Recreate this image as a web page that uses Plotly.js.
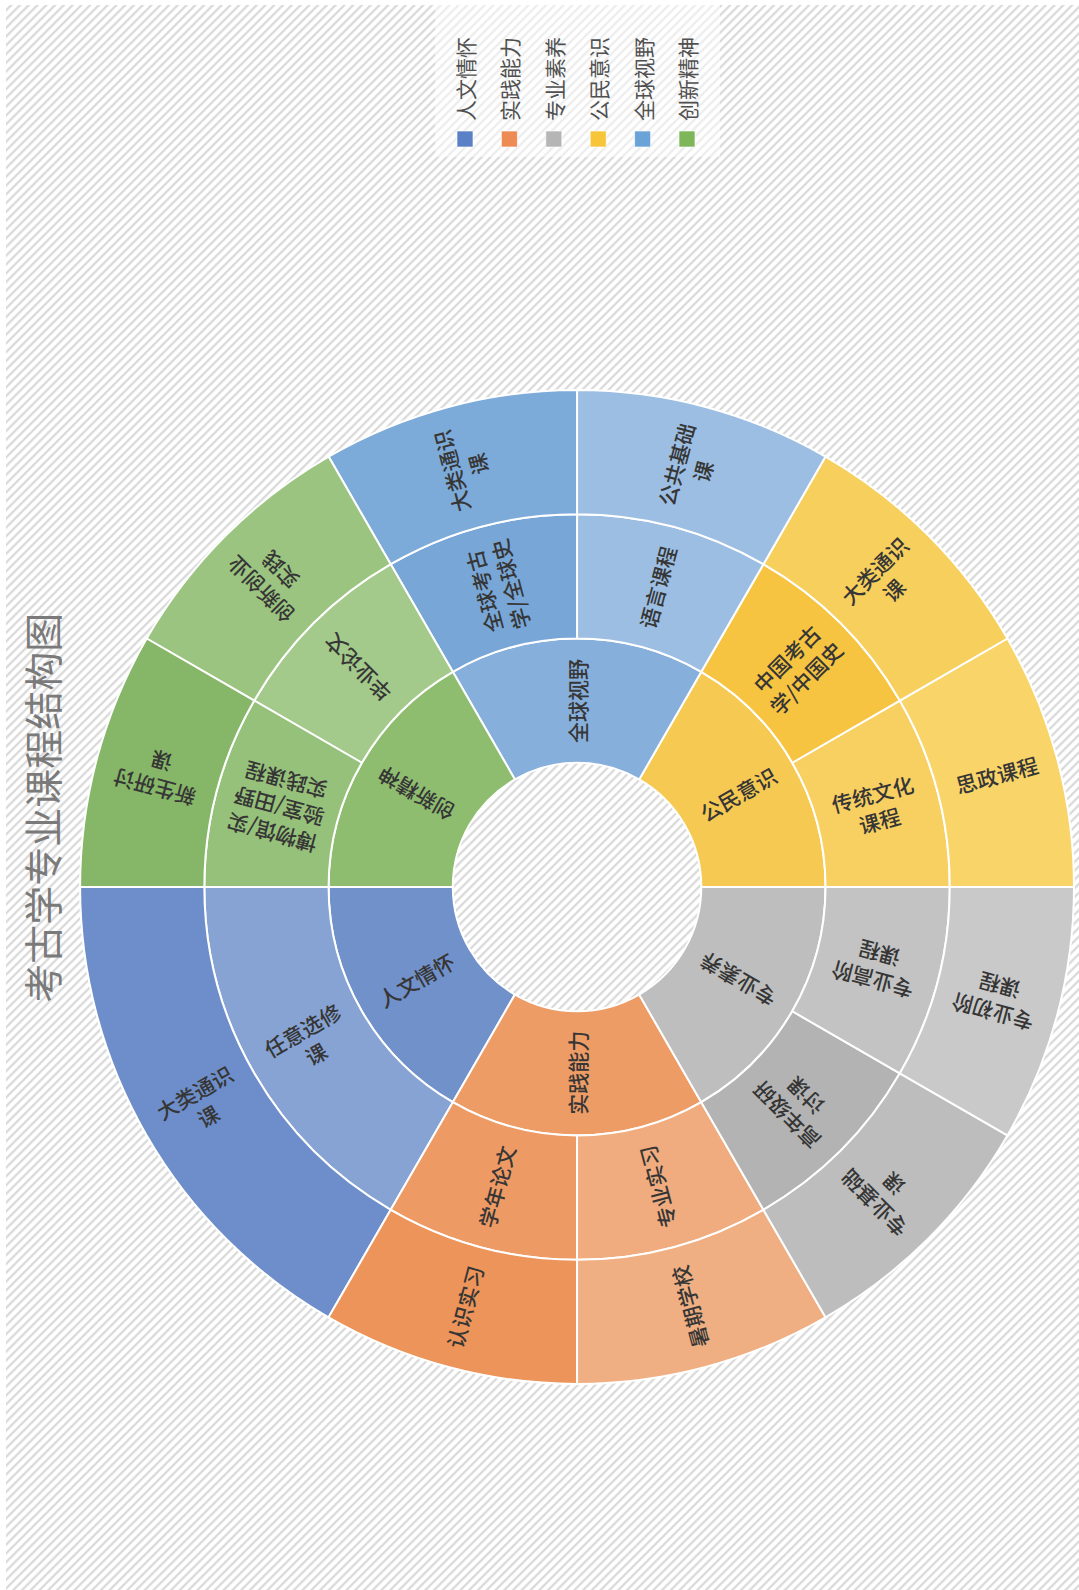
<!DOCTYPE html>
<html>
<head>
<meta charset="utf-8">
<script src="https://cdn.plot.ly/plotly-3.0.1.min.js"></script>
<style>
  html, body { margin: 0; padding: 0; background: #ffffff; }
  body { width: 1079px; height: 1590px; position: relative; overflow: hidden; }
  #hatch {
    position: absolute; left: 6px; top: 5px; right: 0; bottom: 0;
    background: repeating-linear-gradient(135deg,
      #ffffff 0px, #ffffff 2px, #dadada 3.2px, #dadada 4.2px, #ffffff 5.6px, #ffffff 6.2px);
  }
  #chart {
    position: absolute; left: 0; top: 0;
    width: 1590px; height: 1079px;
    transform-origin: 0 0;
    transform: translate(0px, 1590px) rotate(-90deg);
  }
</style>
</head>
<body>
<div id="hatch"></div>
<div id="chart"></div>
<script>
// ---- data ----
const chartTitle = '考古学专业课程结构图';
const categories = ['人文情怀', '实践能力', '专业素养', '公民意识', '全球视野', '创新精神'];
const categoryColors = ['#7191CA', '#EE9C66', '#BEBEBE', '#F6CA52', '#86AFDB', '#8FBD70'];
const legendColors = ['#5A80C6', '#EE8B55', '#B5B5B5', '#F7C53A', '#6AA3D8', '#7FB65A'];

const level2Labels = ['任意选修<br>课', '学年论文', '专业实习', '高年级研<br>讨课', '专业高阶<br>课程',
  '传统文化<br>课程', '中国考古<br>学/中国史', '语言课程', '全球考古<br>学/全球史', '毕业论文',
  '博物馆/实<br>验室/田野<br>实践课程'];
const level2Parent = [0, 1, 1, 2, 2, 3, 3, 4, 4, 5, 5];
const level2Colors = ['#86A3D4', '#EE9A64', '#F0AC7E', '#B3B3B3', '#C3C3C3',
  '#F8D062', '#F6C440', '#9CBEE2', '#78A7D7', '#A3CA8B', '#96C17A'];

const level3Labels = ['大类通识<br>课', '认识实习', '暑期学校', '专业基础<br>课', '专业初阶<br>课程',
  '思政课程', '大类通识<br>课', '公共基础<br>课', '大类通识<br>课', '创新创业<br>实践', '新生研讨<br>课'];
const level3Parent = [0, 1, 2, 3, 4, 5, 6, 7, 8, 9, 10];
const level3Values = [2, 1, 1, 1, 1, 1, 1, 1, 1, 1, 1];
const level3Colors = ['#6D8ECA', '#EC9459', '#F0AF82', '#BDBDBD', '#C9C9C9',
  '#F8D469', '#F7CF5C', '#9CBEE2', '#7CAAD9', '#9AC47F', '#86B667'];

// ---- build hierarchy ----
const ids = ['root'], labels = [''], parents = [''], values = [0];
const colors = ['rgba(0,0,0,0)'], lineW = [0], txtCol = ['rgba(0,0,0,0)'];
categories.forEach((c, i) => {
  ids.push('c' + i); labels.push(c); parents.push('root'); values.push(0);
  colors.push(categoryColors[i]); lineW.push(2); txtCol.push('#363636');
});
level2Labels.forEach((l, i) => {
  ids.push('m' + i); labels.push(l); parents.push('c' + level2Parent[i]); values.push(0);
  colors.push(level2Colors[i]); lineW.push(2); txtCol.push('#363636');
});
level3Labels.forEach((l, i) => {
  ids.push('o' + i); labels.push(l); parents.push('m' + level3Parent[i]); values.push(level3Values[i]);
  colors.push(level3Colors[i]); lineW.push(2); txtCol.push('#363636');
});

const W = 1590, H = 1079;
const font = '"Noto Sans CJK SC", "Noto Sans", sans-serif';

const trace = {
  type: 'sunburst',
  ids: ids, labels: labels, parents: parents, values: values,
  branchvalues: 'remainder',
  sort: false,
  rotation: 90,
  textinfo: 'label',
  insidetextorientation: 'radial',
  textfont: { family: font, size: 21, color: txtCol, weight: 500 },
  marker: { colors: colors, line: { color: '#ffffff', width: lineW } },
  leaf: { opacity: 1 },
  hoverinfo: 'none',
  domain: { x: [0.1296, 0.7547], y: [0.0046, 0.9258] }
};

// legend drawn with shapes + annotations
const shapes = [{
  type: 'rect', xref: 'paper', yref: 'paper',
  x0: 1433 / W, x1: 1585 / W, y0: 1 - 720 / H, y1: 1 - 435 / H,
  fillcolor: 'rgba(255,255,255,0.5)', line: { width: 0 }, layer: 'below'
}];
const annotations = [];
categories.forEach((c, i) => {
  const v = 465 + i * 44.4;
  shapes.push({
    type: 'rect', xref: 'paper', yref: 'paper',
    x0: 1443 / W, x1: 1459 / W, y0: 1 - (v + 8) / H, y1: 1 - (v - 8) / H,
    fillcolor: legendColors[i], line: { width: 0.8, color: 'rgba(255,255,255,0.8)' }
  });
  annotations.push({
    xref: 'paper', yref: 'paper', x: 1467 / W, y: 1 - v / H,
    xanchor: 'left', yanchor: 'middle', showarrow: false,
    text: c, font: { family: font, size: 21, color: '#505050' }
  });
});

const layout = {
  width: W, height: H,
  margin: { l: 0, r: 0, t: 0, b: 0 },
  paper_bgcolor: 'rgba(0,0,0,0)',
  plot_bgcolor: 'rgba(0,0,0,0)',
  title: {
    text: chartTitle, x: 0.492, xanchor: 'center', y: 1 - 44 / H, yanchor: 'middle',
    font: { family: font, size: 39, color: '#7a7a7a' }
  },
  shapes: shapes,
  annotations: annotations,
  showlegend: false
};

Plotly.newPlot('chart', [trace], layout, { displayModeBar: false, staticPlot: true });
</script>
</body>
</html>
